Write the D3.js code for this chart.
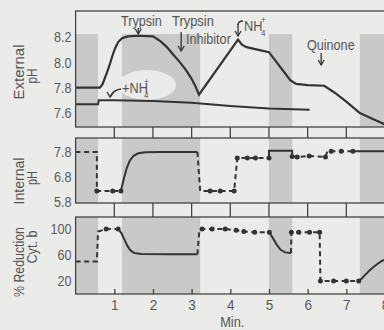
<!DOCTYPE html>
<html>
<head>
<meta charset="utf-8">
<script src="https://cdn.jsdelivr.net/npm/d3@7"></script>
<style>
  body { margin: 0; background: #ebebea; }
  svg { display: block; font-family: "Liberation Sans", Arial, sans-serif; }
  .lbl { fill: #555; font-size: 15px; }
  .tick text { fill: #5a5a5a; font-size: 15px; font-family: "Liberation Sans", Arial, sans-serif; }
</style>
</head>
<body>
<div id="chart"></div>
<script>
// minutes on the shared time axis
const minuteTicks = [1, 2, 3, 4, 5, 6, 7, 8];
const shadeFrom = [0, 1.2, 5.0, 7.35];
const shadeTo = [0.58, 3.22, 5.6, 9];

// external pH (min, pH)
const extTicks = [7.6, 7.8, 8.0, 8.2];
const extCurve = [[0, 7.80], [0.63, 7.80], [0.7, 7.83], [0.8, 7.91], [0.89, 7.99], [0.96, 8.06], [1.02, 8.11],
  [1.1, 8.16], [1.2, 8.19], [1.35, 8.205], [1.6, 8.21], [2.0, 8.205], [2.2, 8.165], [2.36, 8.12], [2.5, 8.07],
  [2.7, 8.0], [2.85, 7.94], [3.0, 7.87], [3.1, 7.81], [3.19, 7.745], [4.2, 8.18], [4.3, 8.14], [4.42, 8.12],
  [4.7, 8.1], [5.0, 8.08], [5.2, 8.0], [5.4, 7.92], [5.55, 7.86], [5.7, 7.83], [6.0, 7.82], [6.43, 7.815],
  [6.7, 7.76], [7.0, 7.69], [7.35, 7.6], [7.7, 7.55], [8.0, 7.51], [8.3, 7.48]];
const nh4Curve = [[0, 7.67], [0.58, 7.67], [0.6, 7.70], [1.0, 7.70], [2.0, 7.695], [3.0, 7.68], [4.0, 7.655],
  [5.0, 7.635], [6.05, 7.625]];

// internal pH: dashed runs (third value 1 = measured point), solid runs recorded
const intTicks = [5.8, 6.8, 7.8];
const intDashed = [
  [[0, 7.8, 0], [0.55, 7.8, 0], [0.55, 6.24, 1], [0.96, 6.24, 1], [1.17, 6.24, 1]],
  [[3.15, 7.8, 0], [3.22, 6.24, 0], [3.48, 6.24, 1], [3.74, 6.24, 1], [4.1, 6.24, 1], [4.18, 7.56, 1],
   [4.44, 7.56, 1], [4.65, 7.56, 1], [5.0, 7.56, 1]],
  [[5.6, 7.62, 1], [5.73, 7.6, 1], [6.04, 7.64, 1], [6.46, 7.6, 1], [6.51, 7.83, 0], [6.61, 7.83, 1],
   [6.87, 7.83, 1], [7.17, 7.83, 1]]
];
const intSolid = [
  [[1.17, 6.24], [1.25, 6.75], [1.32, 7.15], [1.4, 7.45], [1.5, 7.65], [1.62, 7.75], [1.8, 7.79], [2.2, 7.8], [3.15, 7.8]],
  [[5.0, 7.56], [5.0, 7.85], [5.6, 7.85], [5.6, 7.62]],
  [[7.17, 7.83], [9, 7.83]]
];

// % reduction of cyt. b
const cytTicks = [20, 60, 100];
const cytDashed = [
  [[0, 50, 0], [0.55, 50, 0], [0.58, 96, 0], [0.79, 100, 1], [1.1, 100, 1]],
  [[3.15, 61, 0], [3.2, 98, 0], [3.27, 100, 1], [3.53, 100, 1], [3.87, 100, 1], [4.15, 98, 1], [4.35, 96, 1],
   [4.63, 95, 1], [5.01, 95, 1]],
  [[5.57, 63, 0], [5.58, 95, 1], [5.77, 95, 1], [6.05, 95, 1], [6.31, 95, 1], [6.33, 20, 1], [6.67, 20, 1],
   [7.0, 20, 1], [7.32, 20, 1]]
];
const cytSolid = [
  [[1.1, 100], [1.18, 94], [1.26, 84], [1.34, 74], [1.42, 67], [1.52, 63], [1.7, 61.5], [2.5, 61], [3.15, 61]],
  [[5.01, 95], [5.1, 86], [5.2, 76], [5.3, 68], [5.42, 64], [5.57, 63]],
  [[7.32, 20], [7.4, 24], [7.48, 29], [7.6, 36], [7.71, 42], [7.82, 47], [7.92, 51], [8.1, 55], [8.3, 58]]
];

const ink = '#333';
const svg = d3.select('#chart').append('svg').attr('width', 384).attr('height', 330);
const x = d3.scaleLinear().domain([0, 8]).range([75.6, 385]);
const frameRight = 440;

// squeeze text horizontally to imitate the narrow type of the original
function narrow(sel, k) {
  sel.each(function () {
    const w = this.getComputedTextLength();
    d3.select(this).attr('textLength', w * k).attr('lengthAdjust', 'spacingAndGlyphs');
  });
  return sel;
}

const panels = [
  { id: 'ext', top: 11, bottom: 127, y: d3.scaleLinear().domain([7.6, 8.2]).range([113, 37]), ticks: extTicks, fmt: d3.format('.1f'), shadeInset: 23 },
  { id: 'int', top: 138, bottom: 203, y: d3.scaleLinear().domain([5.8, 7.8]).range([202, 152]), ticks: intTicks, fmt: d3.format('.1f'), shadeInset: 0 },
  { id: 'cyt', top: 217, bottom: 294, y: d3.scaleLinear().domain([20, 100]).range([281, 229]), ticks: cytTicks, fmt: d3.format('d'), shadeInset: 0 }
];

panels.forEach(p => {
  svg.append('clipPath').attr('id', 'clip-' + p.id).append('rect')
    .attr('x', x(0)).attr('y', p.top).attr('width', frameRight - x(0)).attr('height', p.bottom - p.top);
  p.g = svg.append('g').attr('clip-path', `url(#clip-${p.id})`);
  p.g.selectAll('rect.shade').data(d3.zip(shadeFrom, shadeTo)).join('rect').attr('class', 'shade')
    .attr('x', d => x(d[0])).attr('width', d => x(d[1]) - x(d[0]))
    .attr('y', p.top + p.shadeInset).attr('height', p.bottom - p.top - p.shadeInset)
    .attr('fill', '#c9c9c8');
});

// clear patch behind the "+NH4" label
panels[0].g.append('ellipse').attr('cx', 147).attr('cy', 85).attr('rx', 29).attr('ry', 15).attr('fill', '#ebebea');

const line = p => d3.line().x(d => x(d[0])).y(d => p.y(d[1]));

// external pH lines
panels[0].g.append('path').datum(extCurve).attr('d', line(panels[0])).attr('fill', 'none').attr('stroke', ink).attr('stroke-width', 2.2);
panels[0].g.append('path').datum(nh4Curve).attr('d', line(panels[0])).attr('fill', 'none').attr('stroke', ink).attr('stroke-width', 2);

function drawRuns(p, dashed, solid) {
  p.g.selectAll('path.solid').data(solid).join('path').attr('class', 'solid')
    .attr('d', line(p)).attr('fill', 'none').attr('stroke', ink).attr('stroke-width', 2);
  p.g.selectAll('path.dash').data(dashed).join('path').attr('class', 'dash')
    .attr('d', line(p)).attr('fill', 'none').attr('stroke', ink).attr('stroke-width', 2)
    .attr('stroke-dasharray', '5,3.5');
  p.g.selectAll('circle').data(dashed.flat().filter(d => d[2])).join('circle')
    .attr('cx', d => x(d[0])).attr('cy', d => p.y(d[1])).attr('r', 2.5).attr('fill', ink);
}
drawRuns(panels[1], intDashed, intSolid);
drawRuns(panels[2], cytDashed, cytSolid);

// frames and y labels
panels.forEach(p => {
  svg.append('rect').attr('x', x(0)).attr('y', p.top).attr('width', frameRight - x(0)).attr('height', p.bottom - p.top)
    .attr('fill', 'none').attr('stroke', '#444').attr('stroke-width', 1.3);
  const ax = svg.append('g').attr('transform', `translate(${x(0)},0)`)
    .call(d3.axisLeft(p.y).tickValues(p.ticks).tickFormat(p.fmt).tickSize(0).tickPadding(4));
  ax.select('.domain').remove();
  narrow(ax.selectAll('text'), 0.84);
});

// ticks bridging the gaps between panels
[[panels[0].bottom, panels[1].top], [panels[1].bottom, panels[2].top]].forEach(([y0, y1]) => {
  svg.append('g').selectAll('line').data(minuteTicks).join('line')
    .attr('x1', d => x(d)).attr('x2', d => x(d)).attr('y1', y0).attr('y2', y1)
    .attr('stroke', '#444').attr('stroke-width', 1.3);
});

// bottom time axis
const xAxis = svg.append('g').attr('transform', `translate(0,${panels[2].bottom})`)
  .call(d3.axisBottom(x).tickValues(minuteTicks).tickFormat(d3.format('d')).tickSizeInner(-5).tickSizeOuter(0).tickPadding(5));
xAxis.select('.domain').remove();
xAxis.selectAll('line').attr('stroke', '#444').attr('stroke-width', 1.3);
narrow(xAxis.selectAll('text'), 0.9);
narrow(svg.append('text').attr('class', 'lbl').attr('x', x(4.05)).attr('y', 327).attr('text-anchor', 'middle').text('Min.'), 0.85);

// axis titles
function vTitle(lines) {
  lines.forEach(([t, bx, cy, w]) => {
    svg.append('text').attr('class', 'lbl').attr('text-anchor', 'middle').style('font-size', '15px')
      .attr('transform', `translate(${bx},${cy}) rotate(-90)`).text(t)
      .attr('textLength', w).attr('lengthAdjust', 'spacingAndGlyphs');
  });
}
vTitle([['External', 24, 72, 55], ['pH', 37, 76, 15]]);
vTitle([['Internal', 24, 181, 47], ['pH', 37, 178, 14]]);
vTitle([['% Reduction', 24, 262, 70], ['Cyt. b', 37, 247, 33]]);

// annotations on external pH panel
const ann = svg.append('g');
const arrowHead = (ax, ay) => ann.append('path')
  .attr('d', `M${ax - 3},${ay - 5}L${ax},${ay}L${ax + 3},${ay - 5}`).attr('fill', 'none').attr('stroke', ink).attr('stroke-width', 1.3);
function down(t, y0, y1) {
  const ax = x(t);
  ann.append('line').attr('x1', ax).attr('x2', ax).attr('y1', y0).attr('y2', y1).attr('stroke', ink).attr('stroke-width', 1.3);
  arrowHead(ax, y1);
}
const label = (tx, ty, t, k, size) => narrow(ann.append('text').attr('class', 'lbl').attr('x', tx).attr('y', ty)
  .style('font-size', size ? size + 'px' : null).text(t), k);

label(121, 26, 'Trypsin', 0.84);
down(1.62, 28, 34);
label(172, 26, 'Trypsin', 0.86);
label(186, 44, 'Inhibitor', 0.84);
down(2.73, 32, 51);
label(244, 31, 'NH', 0.85);
label(261, 36, '4', 0.9, 9);
label(261, 23, '+', 0.9, 9);
down(4.2, 24, 36);
ann.append('path').attr('d', `M${x(4.2) + 5},21Q${x(4.2)},21 ${x(4.2)},25`).attr('fill', 'none').attr('stroke', ink).attr('stroke-width', 1.3);
label(307, 50, 'Quinone', 0.84);
down(6.35, 53, 65);
label(122, 93, '+NH', 0.85);
label(144, 98, '4', 0.9, 9);
label(144, 85, '+', 0.9, 9);
ann.append('path').attr('d', 'M121,89Q113,90 110,97').attr('fill', 'none').attr('stroke', ink).attr('stroke-width', 1.3);
ann.append('path').attr('d', 'M107,92L110,97L113,93').attr('fill', 'none').attr('stroke', ink).attr('stroke-width', 1.3);
</script>
</body>
</html>
